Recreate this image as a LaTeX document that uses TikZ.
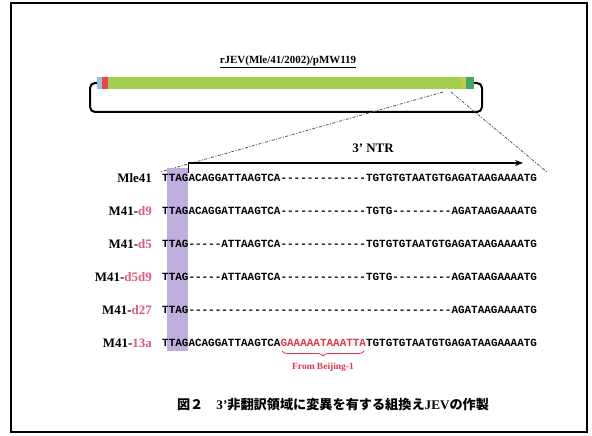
\documentclass[tikz,border=0pt]{standalone}
\usepackage{fontspec}
\setmainfont{Liberation Serif}
\setmonofont{Liberation Mono}
\newfontfamily\cjk{Noto Sans CJK JP}
\usetikzlibrary{arrows.meta,decorations.pathreplacing}
\definecolor{barblue}{RGB}{150,195,225}
\definecolor{barred}{RGB}{232,70,80}
\definecolor{bargreen}{RGB}{163,206,80}
\definecolor{baryellow}{RGB}{205,200,70}
\definecolor{bardkgreen}{RGB}{60,168,105}
\definecolor{lav}{RGB}{192,175,222}
\definecolor{mutred}{RGB}{226,90,120}
\definecolor{insred}{RGB}{228,55,75}
\tikzset{
  seq/.style={anchor=west, inner sep=0pt, font=\ttfamily\bfseries\fontsize{11}{11}\selectfont},
  lab/.style={anchor=east, inner sep=0pt, font=\bfseries\fontsize{13}{14}\selectfont},
  zoomline/.style={gray!70!black, line width=0.8bp, dash pattern=on 3bp off 1.5bp on 1bp off 1.5bp},
}
\begin{document}
\begin{tikzpicture}[x=1bp,y=-1bp]
\useasboundingbox (0,0) rectangle (592,436);
\fill[white] (0,0) rectangle (592,436);
\draw[line width=2.5bp] (11,3) rectangle (587,432);
% plasmid
\node[font=\bfseries\fontsize{11}{12}\selectfont] (title) at (288,62) {\underline{rJEV(Mle/41/2002)/pMW119}};
\draw[line width=2bp, rounded corners=5bp] (98,83) -- (90,83) -- (90,112) -- (482,112) -- (482,83) -- (472,83);
\fill[barblue] (97,77) rectangle (102,89);
\fill[barred] (102,77) rectangle (108,89);
\fill[bargreen] (108,77) rectangle (461,89);
\fill[baryellow] (461,77) rectangle (466,89);
\fill[bardkgreen] (466,77) rectangle (474,89);
\coordinate (zl) at (443,92);
\coordinate (zr) at (451,92);
\coordinate (el) at (160,172);
\coordinate (er) at (547,172);
\draw[zoomline] (zl) -- (el);
\draw[zoomline] (zr) -- (er);
% 3'NTR arrow
\coordinate (a0) at (188.2,173);
\coordinate (a1) at (188.2,163);
\coordinate (a2) at (523,163);
\draw[line width=1.4bp, -{Stealth[length=8bp,width=6bp]}] (a0) -- (a1) -- (a2);
\node[font=\bfseries\fontsize{13}{14}\selectfont] (ntr) at (373,148) {3’ NTR};
% highlight
\fill[lav] (167,168) rectangle (188,351);
% rows
\node[lab] (l1) at (152,178) {Mle41};
\node[lab] (l2) at (152,211) {M41-\textcolor{mutred}{d9}};
\node[lab] (l3) at (152,244) {M41-\textcolor{mutred}{d5}};
\node[lab] (l4) at (152,277) {M41-\textcolor{mutred}{d5d9}};
\node[lab] (l5) at (152,310) {M41-\textcolor{mutred}{d27}};
\node[lab] (l6) at (152,343) {M41-\textcolor{mutred}{13a}};
\node[seq] (s1) at (162,178) {TTAGACAGGATTAAGTCA-------------TGTGTGTAATGTGAGATAAGAAAATG};
\node[seq] (s2) at (162,211) {TTAGACAGGATTAAGTCA-------------TGTG---------AGATAAGAAAATG};
\node[seq] (s3) at (162,244) {TTAG-----ATTAAGTCA-------------TGTGTGTAATGTGAGATAAGAAAATG};
\node[seq] (s4) at (162,277) {TTAG-----ATTAAGTCA-------------TGTG---------AGATAAGAAAATG};
\node[seq] (s5) at (162,310) {TTAG----------------------------------------AGATAAGAAAATG};
\node[seq] (s6) at (162,343) {TTAGACAGGATTAAGTCA\textcolor{insred}{GAAAAATAAATTA}TGTGTGTAATGTGAGATAAGAAAATG};
% brace
\coordinate (b0) at (282,351);
\coordinate (b1) at (364,351);
\draw[insred, line width=0.8bp, decorate, decoration={brace, mirror, amplitude=5bp}] (b0) -- (b1);
\node[insred, font=\bfseries\fontsize{9.5}{10}\selectfont] (fb) at (323,367) {From Beijing-1};
% caption
\node[font=\cjk\bfseries\fontsize{13.2}{15}\selectfont] (cap) at (333,405) {図２\hspace{1em}{\rmfamily 3’}非翻訳領域に変異を有する組換え{\rmfamily JEV}の作製};
\end{tikzpicture}
\end{document}
